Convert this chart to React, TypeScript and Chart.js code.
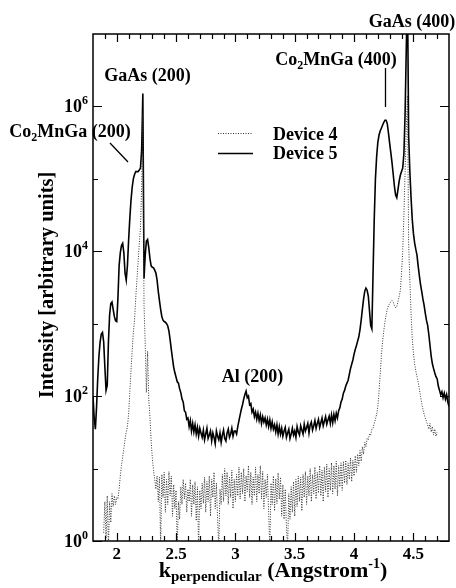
import { useEffect, useRef } from "react";
import { Chart, registerables } from "chart.js";

Chart.register(...registerables);

// k_perpendicular sampling grid (Angstrom^-1)
const K5_START = 1.8;
const K4_START = 1.89;
const K_STEP = 0.01;

// Device 5 intensity (solid), k = 1.80 ... 4.80
const device5 = [
  100, 50, 35, 71, 178, 355, 560, 720, 760, 560,
  250, 120, 141, 560, 1320, 1900, 2000, 1580, 1260, 1100,
  1070, 2240, 6300, 9500, 12000, 12900, 9500, 5000, 4000, 6300,
  14100, 28000, 50000, 76000, 100000, 115000, 126000, 126000, 126000, 132000,
  141000, 251000, 1510000, 4200, 8900, 13800, 14500, 11200, 7900, 6300,
  6000, 5900, 5500, 5000, 4000, 2800, 2090, 1580, 1260, 1120,
  1070, 1050, 1000, 930, 790, 600, 440, 330, 250, 210,
  182, 158, 151, 126, 112, 91, 83, 63, 60, 48,
  50, 38, 46, 33, 42, 32, 40, 30, 37, 28,
  36, 31, 27, 34, 25, 30, 36, 26, 29, 33,
  24, 31, 27, 22, 33, 28, 25, 31, 23, 29,
  34, 26, 24, 31, 35, 27, 30, 36, 28, 33,
  33, 30, 38, 46, 55, 66, 76, 91, 105, 117,
  95, 100, 76, 79, 60, 66, 52, 60, 48, 58,
  46, 55, 42, 52, 44, 50, 40, 48, 38, 47,
  36, 44, 35, 40, 32, 40, 30, 38, 30, 36,
  28, 33, 37, 27, 31, 35, 26, 30, 36, 29,
  33, 27, 38, 32, 29, 39, 34, 30, 41, 33,
  37, 42, 31, 40, 44, 34, 39, 46, 36, 42,
  48, 37, 43, 50, 39, 45, 52, 41, 47, 53,
  42, 55, 43, 56, 46, 58, 50, 63, 69, 83,
  91, 110, 120, 138, 151, 166, 200, 240, 275, 316,
  380, 440, 500, 575, 660, 830, 1120, 1580, 2190, 2800,
  3100, 2900, 2400, 1510, 950, 850, 5000, 28000, 100000, 200000,
  316000, 400000, 457000, 500000, 550000, 600000, 645000, 645000, 575000, 427000,
  309000, 229000, 166000, 115000, 79000, 60000, 55000, 71000, 93000, 112000,
  126000, 141000, 224000, 794000, 6300000, 40000000, 398000, 126000, 56000, 28000,
  17800, 13200, 10700, 8900, 6300, 4600, 3500, 2800, 2200, 1800,
  1400, 1120, 950, 710, 500, 355, 280, 240, 210, 186,
  174, 138, 120, 105, 115, 95, 110, 91, 105, 83,
  72,
];

// Device 4 intensity (dotted), k = 1.89 ... 4.70
const device4 = [
  1.3,
  3.5, 1.1, 4.2, 0.8, 3.5, 1.8, 4.5, 3.0, 4.2, 3.2,
  4.0, 3.8, 5.2, 7.9, 11, 14.5, 19, 25, 32, 38,
  56, 112, 224, 417, 760, 1120, 2240, 4000, 7100, 12600,
  21000, 79000, 794000, 1780, 525, 112, 417, 89, 52, 24,
  14, 9.5, 7.1, 5.2, 7.9, 3.5, 7.6, 0.8, 8.3, 4.0,
  8.9, 2.5, 7.1, 3.2, 9.1, 4.2, 7.9, 2.2, 6.0, 2.8,
  5.0, 0.8, 3.5, 2.0, 5.6, 3.2, 7.1, 3.8, 6.3, 2.5,
  5.2, 3.5, 7.1, 2.2, 6.0, 3.2, 6.6, 1.9, 5.6, 0.8,
  5.0, 2.8, 6.3, 3.3, 7.6, 2.5, 6.6, 3.5, 7.9, 2.2,
  7.1, 4.0, 8.9, 2.8, 6.3, 2.0, 0.8, 5.2, 3.2, 8.3,
  3.5, 10, 4.2, 8.9, 3.2, 7.6, 4.0, 9.5, 2.8, 7.1,
  3.5, 8.3, 4.2, 10.5, 3.8, 8.9, 4.5, 10, 3.5, 7.9,
  4.8, 11, 4.0, 8.9, 3.2, 7.6, 4.2, 10.5, 3.5, 8.3,
  4.5, 11, 3.8, 9.1, 2.8, 7.1, 4.0, 8.3, 2.5, 0.8,
  6.3, 3.2, 7.9, 2.6, 7.2, 3.3, 8.7, 3.8, 7.6, 2.2,
  6.0, 2.0, 5.2, 1.6, 0.8, 4.5, 2.0, 5.6, 2.5, 6.6,
  2.2, 7.1, 3.0, 7.9, 3.5, 7.6, 2.6, 8.3, 4.0, 9.1,
  3.2, 7.9, 4.2, 10, 3.5, 8.3, 4.5, 10.5, 3.8, 8.9,
  4.6, 11, 4.2, 9.5, 3.5, 10.5, 4.8, 11.5, 4.0, 10,
  5.0, 12, 4.5, 11, 5.2, 12.6, 4.2, 11, 5.6, 12,
  5.0, 12.6, 6.3, 13, 6.0, 12, 7.1, 14, 6.6, 13,
  7.9, 15, 8.9, 15.8, 11, 17.8, 12.6, 20, 15.8, 23,
  20, 26, 25, 30, 29, 35, 36, 42, 48, 56,
  71, 112, 200, 355, 560, 790, 1050, 1320, 1580, 1780,
  1900, 2000, 2090, 2000, 1780, 1660, 1740, 2000, 2400, 2900,
  5000, 10000, 31600, 126000, 500000, 1410000, 12600, 4000, 1410, 630,
  400, 280, 224, 186, 158, 126, 100, 79, 66, 56,
  50, 45, 40, 35, 42, 32, 38, 29, 35, 28,
  32,
];

const xLabelTicks = [2, 2.5, 3, 3.5, 4, 4.5];
const yLabelTicks = [1, 100, 10000, 1000000];
const yLabelExponents = ["0", "2", "4", "6"];
const yMinorTicks = [10, 1000, 100000];

const X_MIN = 1.8;
const X_MAX = 4.8;
const Y_MIN = 1;
const Y_MAX = 1e7;

const FONT = '"Liberation Serif", "Times New Roman", serif';

type Part = { t: string; size: number; dy: number };

function drawRich(ctx: CanvasRenderingContext2D, parts: Part[], x: number, y: number, align: "left" | "center" | "right") {
  let total = 0;
  const widths = parts.map((p) => {
    ctx.font = `bold ${p.size}px ${FONT}`;
    const w = ctx.measureText(p.t).width;
    total += w;
    return w;
  });
  let cx = align === "left" ? x : align === "center" ? x - total / 2 : x - total;
  ctx.textAlign = "left";
  ctx.textBaseline = "alphabetic";
  parts.forEach((p, i) => {
    ctx.font = `bold ${p.size}px ${FONT}`;
    ctx.fillText(p.t, cx, y + p.dy);
    cx += widths[i];
  });
}

const overlayPlugin = {
  id: "overlay",
  afterDraw(chart: any) {
    const { ctx, chartArea: a, scales } = chart;
    const xs = scales.x;
    const ys = scales.y;
    ctx.save();
    ctx.fillStyle = "#000";
    ctx.strokeStyle = "#000";

    // frame
    ctx.lineWidth = 1.5;
    ctx.strokeRect(a.left, a.top, a.right - a.left, a.bottom - a.top);

    // x ticks (bottom and top, pointing inward)
    ctx.lineWidth = 1.2;
    for (let i = 1; i < 30; i++) {
      const v = X_MIN + i * 0.1;
      const major = Math.abs(v * 2 - Math.round(v * 2)) < 1e-6;
      const len = major ? 8 : 5;
      const px = Math.round(xs.getPixelForValue(v)) + 0.5;
      ctx.beginPath();
      ctx.moveTo(px, a.bottom);
      ctx.lineTo(px, a.bottom - len);
      ctx.moveTo(px, a.top);
      ctx.lineTo(px, a.top + len);
      ctx.stroke();
    }
    // y ticks (left and right)
    const yTicks = [...yLabelTicks.map((v) => [v, 9]), ...yMinorTicks.map((v) => [v, 5])];
    for (const [v, len] of yTicks) {
      const py = Math.round(ys.getPixelForValue(v)) + 0.5;
      ctx.beginPath();
      ctx.moveTo(a.left, py);
      ctx.lineTo(a.left + len, py);
      ctx.moveTo(a.right, py);
      ctx.lineTo(a.right - len, py);
      ctx.stroke();
    }

    // y tick labels 10^n
    yLabelTicks.forEach((v, i) => {
      const py = ys.getPixelForValue(v);
      drawRich(
        ctx,
        [
          { t: "10", size: 18, dy: 0 },
          { t: yLabelExponents[i], size: 12, dy: -8 },
        ],
        a.left - 5,
        py + 6,
        "right"
      );
    });

    // axis titles
    drawRich(
      ctx,
      [
        { t: "k", size: 22, dy: 0 },
        { t: "perpendicular", size: 15, dy: 4 },
        { t: " (Angstrom", size: 22, dy: 0 },
        { t: "-1", size: 14, dy: -9 },
        { t: ")", size: 22, dy: 0 },
      ],
      273,
      577,
      "center"
    );
    ctx.save();
    ctx.translate(53, 285);
    ctx.rotate(-Math.PI / 2);
    drawRich(ctx, [{ t: "Intensity [arbitrary units]", size: 20.5, dy: 0 }], 0, 0, "center");
    ctx.restore();

    // peak annotations
    drawRich(ctx, [{ t: "GaAs (200)", size: 18, dy: 0 }], 147.5, 81, "center");
    drawRich(
      ctx,
      [
        { t: "Co", size: 18, dy: 0 },
        { t: "2", size: 12, dy: 4 },
        { t: "MnGa (200)", size: 18, dy: 0 },
      ],
      70,
      137,
      "center"
    );
    drawRich(
      ctx,
      [
        { t: "Co", size: 18, dy: 0 },
        { t: "2", size: 12, dy: 4 },
        { t: "MnGa (400)", size: 18, dy: 0 },
      ],
      336,
      65,
      "center"
    );
    drawRich(ctx, [{ t: "GaAs (400)", size: 18, dy: 0 }], 412, 27, "center");
    drawRich(ctx, [{ t: "Al (200)", size: 18, dy: 0 }], 252.5, 382, "center");

    // leader lines
    ctx.lineWidth = 1.3;
    ctx.beginPath();
    ctx.moveTo(110, 143);
    ctx.lineTo(128, 162);
    ctx.moveTo(385.5, 68);
    ctx.lineTo(385.5, 107);
    ctx.stroke();

    // legend
    ctx.lineWidth = 1;
    ctx.strokeStyle = "#333";
    ctx.setLineDash([1, 1.5]);
    ctx.beginPath();
    ctx.moveTo(218, 133.5);
    ctx.lineTo(253, 133.5);
    ctx.stroke();
    ctx.setLineDash([]);
    ctx.strokeStyle = "#000";
    ctx.lineWidth = 1.6;
    ctx.beginPath();
    ctx.moveTo(218, 153.5);
    ctx.lineTo(253, 153.5);
    ctx.stroke();
    drawRich(ctx, [{ t: "Device 4", size: 18, dy: 0 }], 273, 140, "left");
    drawRich(ctx, [{ t: "Device 5", size: 18, dy: 0 }], 273, 158.5, "left");

    ctx.restore();
  },
};

export default function App() {
  const ref = useRef<HTMLCanvasElement | null>(null);

  useEffect(() => {
    const canvas = ref.current;
    if (!canvas) return;
    const pts5 = device5.map((v, i) => ({ x: +(K5_START + i * K_STEP).toFixed(2), y: v }));
    const pts4 = device4.map((v, i) => ({ x: +(K4_START + i * K_STEP).toFixed(2), y: v }));
    const chart = new Chart(canvas, {
      type: "line",
      data: {
        datasets: [
          {
            label: "Device 4",
            data: pts4,
            borderColor: "#333",
            borderWidth: 1,
            borderDash: [1, 1.5],
            pointRadius: 0,
            tension: 0,
            fill: false,
          },
          {
            label: "Device 5",
            data: pts5,
            borderColor: "#000",
            borderWidth: 1.6,
            pointRadius: 0,
            tension: 0,
            fill: false,
          },
        ],
      },
      options: {
        animation: false,
        responsive: false,
        maintainAspectRatio: false,
        events: [],
        layout: { padding: { left: 0, right: 7, top: 34, bottom: 0 } },
        plugins: {
          legend: { display: false },
          tooltip: { enabled: false },
          title: { display: false },
        },
        scales: {
          x: {
            type: "linear",
            min: X_MIN,
            max: X_MAX,
            grid: { display: false, drawTicks: false },
            border: { display: false },
            afterBuildTicks: (scale: any) => {
              scale.ticks = xLabelTicks.map((v) => ({ value: v }));
            },
            afterFit: (scale: any) => {
              scale.height = 47;
            },
            ticks: {
              color: "#000",
              padding: 3,
              maxRotation: 0,
              autoSkip: false,
              font: { family: FONT, weight: "bold", size: 17 },
              callback: (v: any) => String(v),
            },
          },
          y: {
            type: "logarithmic",
            min: Y_MIN,
            max: Y_MAX,
            grid: { display: false, drawTicks: false },
            border: { display: false },
            ticks: { display: false },
            afterFit: (scale: any) => {
              scale.width = 93;
            },
          },
        },
      },
      plugins: [overlayPlugin],
    } as any);
    return () => chart.destroy();
  }, []);

  return (
    <div style={{ position: "fixed", left: 0, top: 0, width: 456, height: 588, background: "#fff" }}>
      <canvas ref={ref} width={456} height={588} style={{ width: 456, height: 588, display: "block" }} />
    </div>
  );
}
